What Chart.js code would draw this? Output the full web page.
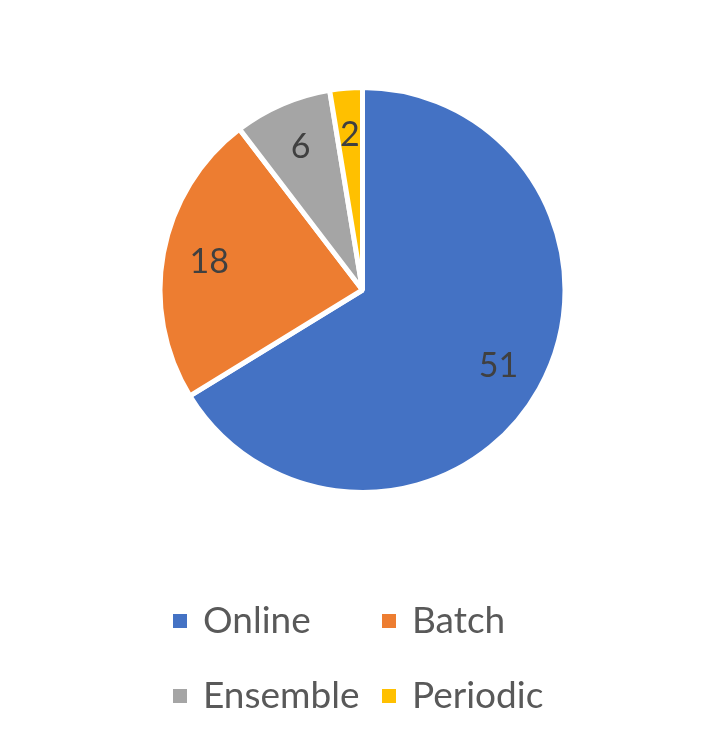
<!DOCTYPE html>
<html>
<head>
<meta charset="utf-8">
<script src="https://cdn.jsdelivr.net/npm/chart.js@4"></script>
<style>
  html, body { margin: 0; padding: 0; background: #fff; }
  #wrap { width: 725px; height: 756px; }
</style>
</head>
<body>
<div id="wrap"><canvas id="pieChart" width="725" height="756"></canvas></div>
<script>
const labels = ["Online", "Batch", "Ensemble", "Periodic"];
const values = [51, 18, 6, 2];
const colors = ["#4472C4", "#ED7D31", "#A5A5A5", "#FFC000"];

// value labels inside each slice
const sliceLabels = {
  id: "sliceLabels",
  afterDatasetsDraw(chart) {
    const ctx = chart.ctx;
    const meta = chart.getDatasetMeta(0);
    ctx.save();
    ctx.font = "34px Lato";
    ctx.fillStyle = "#404040";
    ctx.textAlign = "center";
    ctx.textBaseline = "middle";
    meta.data.forEach((arc, i) => {
      const p = arc.getProps(["x", "y", "startAngle", "endAngle", "outerRadius"], true);
      const mid = (p.startAngle + p.endAngle) / 2;
      const r = p.outerRadius * 0.77;
      ctx.fillText(String(values[i]), p.x + Math.cos(mid) * r, p.y + Math.sin(mid) * r);
    });
    ctx.restore();
  },
};

// legend laid out in a 2-column grid below the pie
const gridLegend = {
  id: "gridLegend",
  afterDraw(chart) {
    const ctx = chart.ctx;
    const area = chart.chartArea;
    const colW = 209;
    const rowH = 75;
    const x0 = 173;
    const y0 = area.bottom + 126;
    ctx.save();
    ctx.font = "37px Lato";
    ctx.textBaseline = "middle";
    labels.forEach((lab, i) => {
      const x = x0 + (i % 2) * colW;
      const y = y0 + Math.floor(i / 2) * rowH;
      ctx.fillStyle = colors[i];
      ctx.fillRect(x, y - 7, 14, 14);
      ctx.fillStyle = "#595959";
      ctx.fillText(lab, x + 30, y);
    });
    ctx.restore();
  },
};

new Chart(document.getElementById("pieChart"), {
  type: "pie",
  data: {
    labels: labels,
    datasets: [
      {
        data: values,
        backgroundColor: colors,
        borderColor: "#ffffff",
        borderWidth: 5,
      },
    ],
  },
  options: {
    responsive: false,
    animation: false,
    layout: { padding: { top: 85, bottom: 261, left: 0, right: 0 } },
    plugins: {
      legend: { display: false },
      tooltip: { enabled: false },
    },
  },
  plugins: [sliceLabels, gridLegend],
});
</script>
</body>
</html>
